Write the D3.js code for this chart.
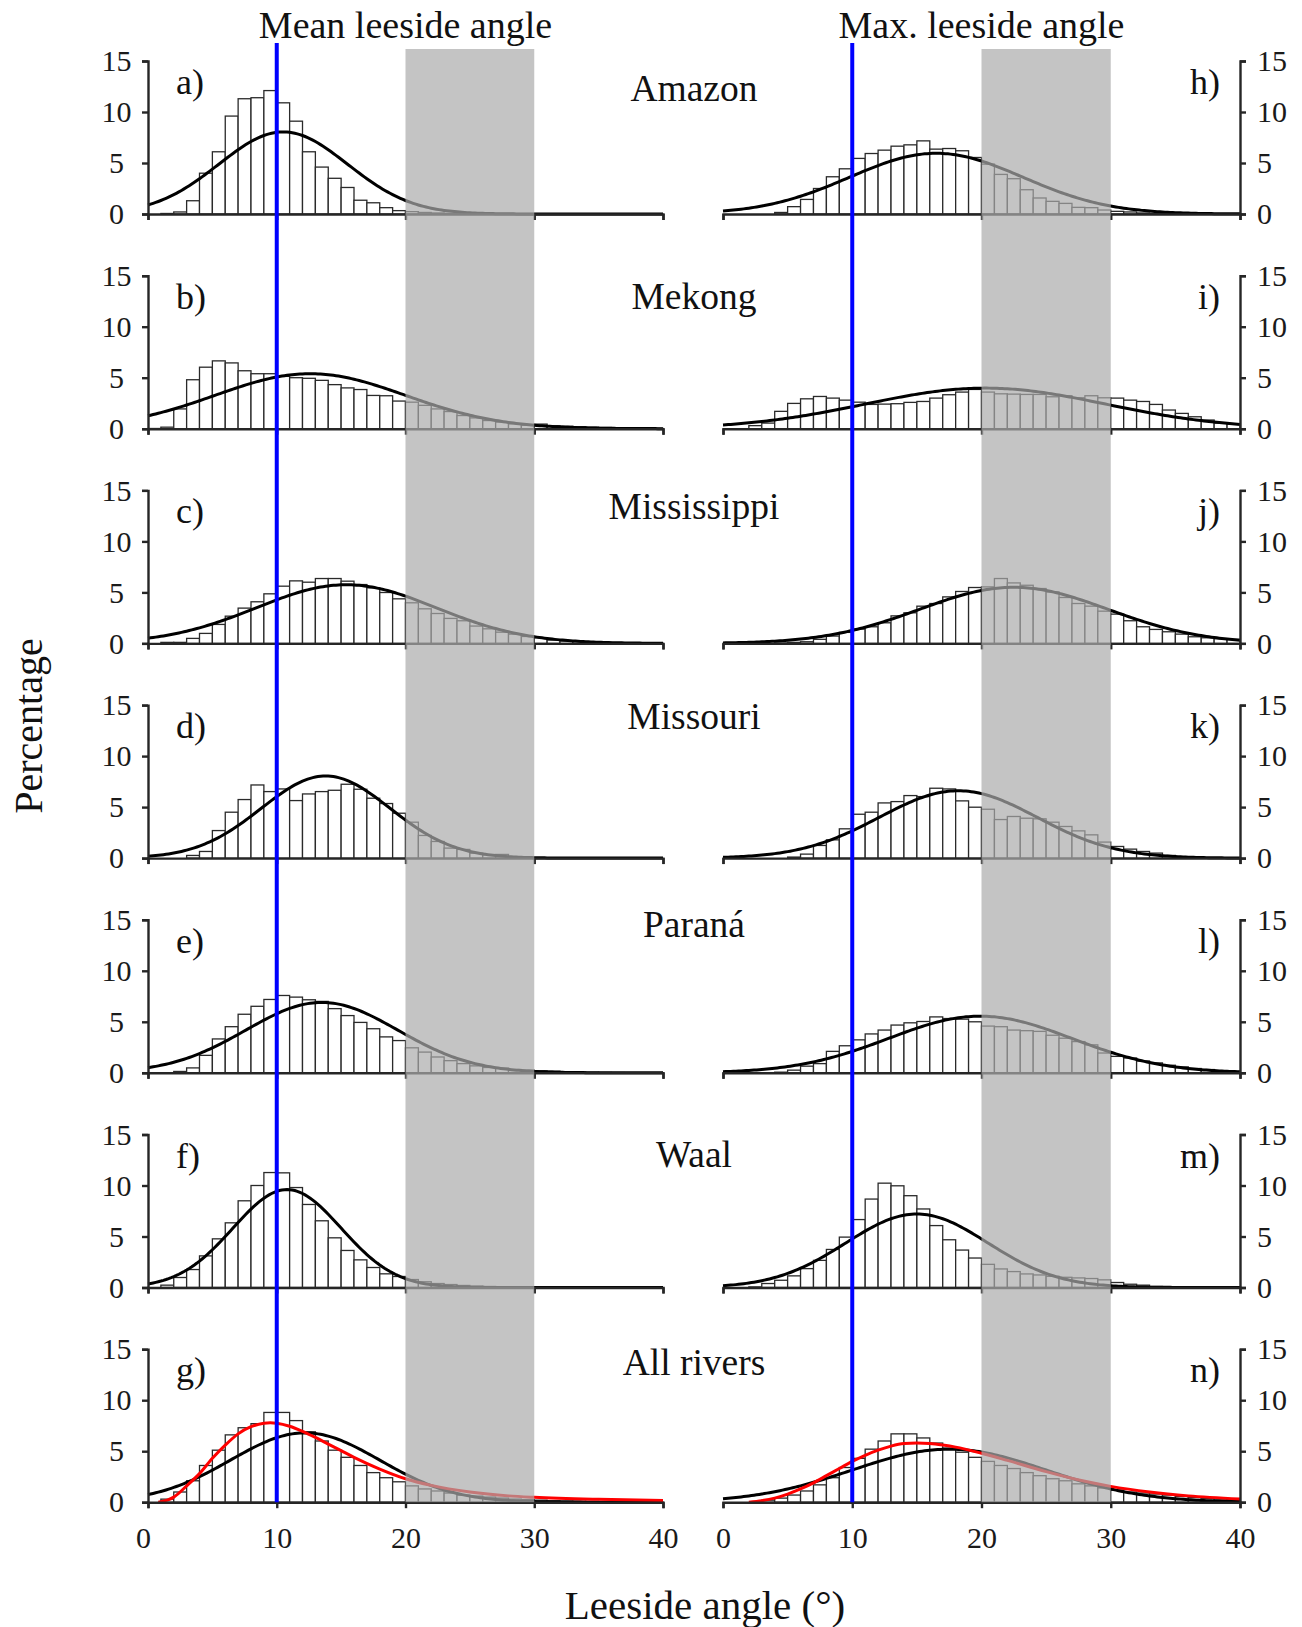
<!DOCTYPE html>
<html><head><meta charset="utf-8">
<script src="https://cdn.jsdelivr.net/npm/d3@7"></script>
<style>body{margin:0;background:#fff}</style>
</head><body><svg id="c" width="1302" height="1627"></svg>
<script>
// ---------- DATA ----------
const rivers = ["Amazon","Mekong","Mississippi","Missouri","Paraná","Waal","All rivers"];
const meanLetters = ["a)","b)","c)","d)","e)","f)","g)"];
const maxLetters = ["h)","i)","j)","k)","l)","m)","n)"];
const xTicks = [0,10,20,30,40];
const yTicks = [0,5,10,15];
const columnTitles = ["Mean leeside angle","Max. leeside angle"];
const xLabel = "Leeside angle (°)";
const yLabel = "Percentage";
const thresholdAngle = 10;
const bandRange = [20,30];

// histogram percentages per 1° bin (0-1, 1-2, ..., 39-40)
const amazonMean = [0,0.05,0.2,1.3,4.0,6.1,9.6,11.3,11.4,12.1,10.9,9.1,6.1,4.6,3.5,2.6,1.35,1.1,0.62,0.33,0.23,0.15,0.1,0.06,0.04,0.03,0.02,0,0,0,0,0,0,0,0,0,0,0,0,0];
const amazonMax = [0,0,0,0,0.15,0.72,1.43,2.5,3.65,4.43,5.45,5.93,6.26,6.65,6.78,7.17,6.36,6.42,6.2,5.54,4.89,3.88,3.46,2.38,1.57,1.24,1.04,0.65,0.62,0.39,0.26,0.2,0.1,0.05,0.03,0,0,0,0,0];
const mekongMean = [0.02,0.15,1.94,4.8,6.03,6.65,6.45,5.68,5.39,5.39,5.13,5.0,4.94,4.74,4.32,4.0,3.84,3.26,3.23,2.71,2.6,2.29,1.94,1.68,1.29,1.06,0.8,0.65,0.48,0.35,0.45,0.3,0.25,0.2,0.15,0.12,0.1,0.08,0.05,0.03];
const mekongMax = [0,0,0.3,0.55,1.7,2.48,2.93,3.16,3.0,2.8,2.6,2.38,2.41,2.45,2.58,2.67,3.0,3.33,3.59,3.85,3.59,3.42,3.39,3.36,3.36,3.13,3.23,3.03,3.23,3.03,3.0,2.8,2.67,2.38,1.83,1.5,1.17,0.85,0.55,0.46];
const mississippiMean = [0,0.1,0.1,0.49,0.98,1.86,2.67,3.46,4.08,4.86,5.61,6.13,6.0,6.36,6.36,6.1,5.77,5.45,4.99,4.37,3.98,3.39,2.93,2.45,2.22,1.7,1.43,1.1,0.91,0.68,0.55,0.33,0.23,0.18,0.14,0.1,0.08,0.05,0.03,0.02];
const mississippiMax = [0,0,0,0,0.05,0.1,0.16,0.4,0.72,1.08,1.4,1.63,2.02,2.7,3.0,3.65,3.91,4.56,5.09,5.48,5.54,6.36,5.93,5.7,5.38,5.05,4.5,3.91,3.65,3.16,2.87,2.22,1.63,1.37,1.14,0.91,0.65,0.55,0.46,0.39];
const missouriMean = [0,0,0,0.26,0.65,2.7,4.5,5.74,7.17,6.52,6.78,5.64,6.29,6.52,6.65,7.24,6.75,5.87,5.35,4.4,3.52,2.22,1.63,0.98,0.85,0.49,0.33,0.36,0.1,0,0,0,0,0,0,0,0,0,0,0];
const missouriMax = [0,0,0,0,0,0.1,0.39,1.24,1.79,2.87,4.3,4.5,5.41,5.54,6.13,6.03,6.85,6.78,5.61,4.99,4.79,3.78,4.08,3.91,3.85,3.52,3.1,2.67,2.28,1.57,1.14,0.88,0.65,0.49,0.26,0.1,0,0,0,0];
const paranaMean = [0,0,0.13,0.48,1.71,3.32,4.52,5.74,6.52,7.19,7.58,7.42,7.16,7.0,6.29,5.61,4.94,4.32,3.52,3.16,2.45,2.03,1.55,1.19,0.9,0.68,0.52,0.45,0.32,0.26,0.2,0.16,0.1,0.08,0.05,0.03,0.02,0,0,0];
const paranaMax = [0,0,0,0,0.06,0.26,0.65,0.9,2.1,2.65,3.23,3.81,4.19,4.68,4.9,5.03,5.48,5.32,5.26,5.0,4.58,4.52,4.19,4.13,4.06,3.68,3.39,3.06,2.74,1.94,1.61,1.45,1.16,0.97,0.74,0.58,0.42,0.32,0.19,0.13];
const waalMean = [0,0.23,0.98,1.76,3.1,4.77,6.34,8.5,10.0,11.27,11.24,9.8,8.14,6.54,4.87,3.63,2.71,1.96,1.34,1.08,0.78,0.56,0.39,0.29,0.2,0.13,0.1,0.06,0.04,0,0,0,0,0,0,0,0,0,0,0];
const waalMax = [0,0,0.06,0.39,0.71,1.14,1.85,2.66,3.73,4.94,6.66,8.67,10.23,9.97,9.0,7.7,6.07,4.68,3.67,2.89,2.27,1.82,1.56,1.33,1.23,1.1,1.0,0.94,0.88,0.75,0.49,0.32,0.23,0.1,0.05,0.03,0,0,0,0];
const allMean = [0,0.3,1.0,2.1,3.6,5.1,6.6,7.3,7.7,8.8,8.8,8.0,6.9,6.0,5.1,4.4,3.6,2.9,2.4,2.0,1.6,1.3,1.1,0.9,0.7,0.6,0.5,0.4,0.3,0.25,0.2,0.15,0.12,0.1,0.08,0.06,0.05,0.04,0.03,0.02];
const allMax = [0,0,0,0.2,0.4,0.7,1.1,1.7,2.4,3.4,4.3,5.2,6.0,6.7,6.7,6.3,5.8,5.3,4.9,4.4,4.0,3.6,3.3,2.9,2.6,2.3,2.1,1.8,1.6,1.4,1.2,1.0,0.9,0.8,0.7,0.55,0.45,0.35,0.3,0.25];

// fitted normal curves (mean, sd, peak %)
const fitMeanMu  = [10.5, 12.6, 15.4, 13.8, 13.5, 10.8, 12.2];
const fitMeanSd  = [5.0, 7.4, 7.0, 5.0, 5.9, 4.2, 5.8];
const fitMeanAmp = [8.05, 5.39, 5.75, 8.05, 6.9, 9.6, 6.8];
const fitMaxMu   = [16.5, 20.3, 22.5, 18.2, 19.9, 15.0, 17.5];
const fitMaxSd   = [6.7, 9.3, 7.3, 6.1, 7.1, 5.5, 7.5];
const fitMaxAmp  = [5.95, 3.98, 5.5, 6.6, 5.55, 7.2, 5.2];
// skewed (red) fit for "All rivers", read as points
const redMeanX = [0.8,1.5,2,3,4,5,6,7,8,9,9.5,10,11,12,13,14,15,16,18,20,22,25,28,30,35,40];
const redMeanY = [0,0.2,0.5,1.6,2.8,4.3,5.6,6.7,7.4,7.75,7.8,7.75,7.45,6.95,6.35,5.7,5.05,4.4,3.25,2.3,1.65,1.0,0.62,0.48,0.28,0.17];
const redMaxX = [2,3,4,5,6,7,8,9,10,11,12,13,14,15,16,17,18,20,22,25,28,30,33,36,40];
const redMaxY = [0,0.15,0.4,0.8,1.3,1.9,2.6,3.3,4.0,4.6,5.1,5.5,5.75,5.8,5.75,5.6,5.4,4.8,4.1,3.0,2.05,1.55,1.0,0.62,0.32];

// ---------- LAYOUT ----------
const meanHists = [amazonMean, mekongMean, mississippiMean, missouriMean, paranaMean, waalMean, allMean];
const maxHists  = [amazonMax, mekongMax, mississippiMax, missouriMax, paranaMax, waalMax, allMax];
const redCurves = [d3.zip(redMeanX, redMeanY), d3.zip(redMaxX, redMaxY)];
const svg = d3.select("#c");
const FONT = "'Liberation Serif','Times New Roman',serif";
const colRange = [[148,663],[723,1240]];
const rowY0 = i => 214 + i*214.7;
const panelH = 153;
const titleOffsets = [40, 33, 28.5, 24, 17, 32, 26];
const axisColor = "#262626";
const layerPanels = svg.append("g");
const layerBand = svg.append("g");
const layerTop = svg.append("g");

const normal = (mu, sd, amp) => t => amp*Math.exp(-(t-mu)*(t-mu)/(2*sd*sd));
const samples = d3.range(0, 40.0001, 0.2);

let xScales = [];
for (let i = 0; i < 7; i++) {
  const y0 = rowY0(i);
  const y = d3.scaleLinear().domain([0,15]).range([y0, y0-panelH]);
  for (let side = 0; side < 2; side++) {
    const x = d3.scaleLinear().domain([0,40]).range(colRange[side]);
    if (i === 0) xScales.push(x);
    const hist = side === 0 ? meanHists[i] : maxHists[i];
    const g = layerPanels.append("g");
    // bars
    g.selectAll("rect").data(hist.map((v,k)=>({k,v})).filter(d=>d.v>0)).join("rect")
      .attr("x", d=>x(d.k)).attr("width", d=>x(d.k+1)-x(d.k))
      .attr("y", d=>y(d.v)).attr("height", d=>y(0)-y(d.v))
      .attr("fill","#fff").attr("stroke","#2a2a2a").attr("stroke-width",1.3);
    // normal fit
    const f = side === 0 ? normal(fitMeanMu[i], fitMeanSd[i], fitMeanAmp[i]) : normal(fitMaxMu[i], fitMaxSd[i], fitMaxAmp[i]);
    const line = d3.line().x(d=>x(d[0])).y(d=>y(d[1]));
    g.append("path").attr("d", line(samples.map(t=>[t,f(t)])))
      .attr("fill","none").attr("stroke","#000").attr("stroke-width",3);
    if (i === 6) {
      g.append("path").attr("d", line.curve(d3.curveMonotoneX)(redCurves[side]))
        .attr("fill","none").attr("stroke","#ff0000").attr("stroke-width",3);
    }
    // axes
    const ya = (side === 0 ? d3.axisLeft(y) : d3.axisRight(y)).tickValues(yTicks).tickSize(6).tickPadding(11);
    const gy = g.append("g").attr("transform", `translate(${colRange[side][side]},0)`).call(ya);
    const xa = d3.axisBottom(x).tickValues(xTicks).tickSize(6).tickPadding(19);
    const gx = g.append("g").attr("transform", `translate(0,${y0})`).call(xa);
    for (const ax of [gx, gy]) {
      ax.attr("color", axisColor);
      ax.selectAll("path,line").attr("stroke-width", 2.4);
      ax.selectAll("text").attr("font-size", 30).attr("font-family", FONT).attr("fill", "#1a1a1a");
    }
    if (side === 0) gy.selectAll("text").attr("x", -31.5).attr("text-anchor","middle");
    if (i !== 6) gx.selectAll("text").remove();
    else if (side === 0) gx.selectAll("text").filter(d=>d===0).attr("x", -5);
    // panel letter
    g.append("text").text(side === 0 ? meanLetters[i] : maxLetters[i])
      .attr("x", side === 0 ? 176 : 1220).attr("y", y0 - panelH + 33)
      .attr("text-anchor", side === 0 ? "start" : "end")
      .attr("font-family", FONT).attr("font-size", 36).attr("fill","#111");
  }
  // river name
  layerPanels.append("text").text(rivers[i]).attr("x", 694).attr("y", y0 - panelH + titleOffsets[i])
    .attr("text-anchor","middle").attr("font-family", FONT).attr("font-size", 37.5).attr("fill","#111");
}

// shaded band 20-30 across all rows
const bandTop = 49, bottom = rowY0(6);
for (const x of xScales) {
  layerBand.append("rect").attr("x", x(bandRange[0])).attr("width", x(bandRange[1])-x(bandRange[0]))
    .attr("y", bandTop).attr("height", bottom-bandTop)
    .attr("fill","#ababab").attr("fill-opacity",0.7);
  layerTop.append("line").attr("x1", x(thresholdAngle)).attr("x2", x(thresholdAngle))
    .attr("y1", 43).attr("y2", bottom).attr("stroke","#0000ff").attr("stroke-width",4);
}
// column titles
columnTitles.forEach((t, s) => {
  layerTop.append("text").text(t).attr("x", xScales[s](20)).attr("y", 38)
    .attr("text-anchor","middle").attr("font-family", FONT).attr("font-size", 38).attr("fill","#111");
});
// axis labels
layerTop.append("text").text(xLabel).attr("x", 705).attr("y", 1619)
  .attr("text-anchor","middle").attr("font-family", FONT).attr("font-size", 41).attr("fill","#111");
layerTop.append("text").text(yLabel).attr("transform","translate(42,726) rotate(-90)")
  .attr("text-anchor","middle").attr("font-family", FONT).attr("font-size", 40).attr("fill","#111");
</script></body></html>
